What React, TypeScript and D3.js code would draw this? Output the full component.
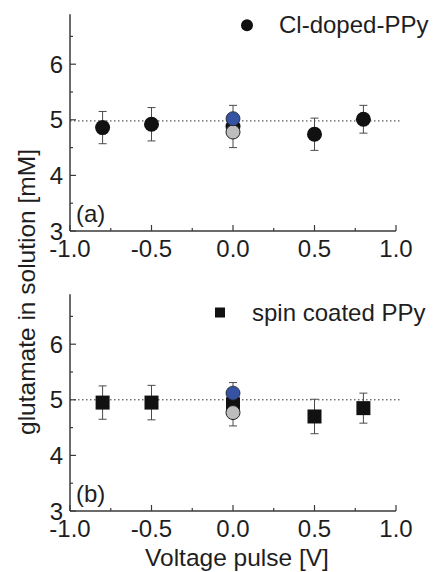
import * as d3 from "d3";

// ── Data ──────────────────────────────────────────────────
const voltages = [-0.8, -0.5, 0, 0.5, 0.8];
const clDopedMean = [4.86, 4.92, 4.88, 4.74, 5.01];
const clDopedErr = [0.29, 0.3, 0.38, 0.29, 0.25];
const spinMean = [4.95, 4.95, 4.92, 4.7, 4.85];
const spinErr = [0.3, 0.31, 0.39, 0.31, 0.27];
// reference points at 0 V (blue / grey circles)
const blueTop = 5.02;
const greyTop = 4.78;
const blueBot = 5.12;
const greyBot = 4.77;
const refLevelTop = 4.98;
const refLevelBot = 5.0;

const xTicks = [-1, -0.5, 0, 0.5, 1];
const xMinor = [-0.75, -0.25, 0.25, 0.75];
const yTicks = [3, 4, 5, 6];
const yMinor = [3.5, 4.5, 5.5, 6.5];

// ── Layout ────────────────────────────────────────────────
const W = 436;
const H = 572;
const FONT = "'Liberation Sans', Arial, Helvetica, sans-serif";
const AXIS = "#3a3a3a";
const TEXT = "#1e1e1e";
const BLUE = "#3552a3";
const GREY = "#bdbdbd";

const x = d3.scaleLinear().domain([-1, 1]).range([70, 396]);

type PanelProps = {
  bottom: number;
  label: string;
  legend: string;
  square: boolean;
  means: number[];
  errs: number[];
  blue: number;
  grey: number;
  level: number;
};

function Panel({ bottom, label, legend, square, means, errs, blue, grey, level }: PanelProps) {
  const y = d3.scaleLinear().domain([3, 7]).range([bottom, bottom - 4 * 55.6]);
  const top = y(6.9);
  const zeroIdx = voltages.indexOf(0);

  const marker = (cx: number, cy: number, s: number, key: string | number) =>
    square ? (
      <rect key={key} x={cx - s} y={cy - s} width={2 * s} height={2 * s} fill="#111" />
    ) : (
      <circle key={key} cx={cx} cy={cy} r={s} fill="#111" />
    );

  return (
    <g>
      {/* dotted reference line */}
      <line x1={x(-1)} x2={x(1.03)} y1={y(level)} y2={y(level)}
        stroke="#333" strokeWidth={1} strokeDasharray="1.5,2.5" />

      {/* axes */}
      <line x1={x(-1)} x2={x(-1)} y1={top} y2={bottom} stroke={AXIS} strokeWidth={1.5} />
      <line x1={x(-1)} x2={x(1)} y1={bottom} y2={bottom} stroke={AXIS} strokeWidth={1.5} />
      {xTicks.map(t => (
        <g key={"x" + t}>
          <line x1={x(t)} x2={x(t)} y1={bottom} y2={bottom - 6} stroke={AXIS} strokeWidth={1.2} />
          <text x={x(t)} y={bottom + 26} textAnchor="middle" fontSize={24}
            fontFamily={FONT} fill={TEXT}>
            {d3.format(".1f")(t).replace("−", "-")}
          </text>
        </g>
      ))}
      {xMinor.map(t => (
        <line key={"xm" + t} x1={x(t)} x2={x(t)} y1={bottom} y2={bottom - 3}
          stroke={AXIS} strokeWidth={1.2} />
      ))}
      {yTicks.map(t => (
        <g key={"y" + t}>
          <line x1={x(-1)} x2={x(-1) + 6} y1={y(t)} y2={y(t)} stroke={AXIS} strokeWidth={1.2} />
          <text x={x(-1) - 7} y={y(t)} dy="0.36em" textAnchor="end" fontSize={24}
            fontFamily={FONT} fill={TEXT}>
            {t}
          </text>
        </g>
      ))}
      {yMinor.map(t => (
        <line key={"ym" + t} x1={x(-1)} x2={x(-1) + 3} y1={y(t)} y2={y(t)}
          stroke={AXIS} strokeWidth={1.2} />
      ))}

      {/* panel label */}
      <text x={76} y={bottom - 9} fontSize={24} fontFamily={FONT} fill={TEXT}>{label}</text>

      {/* legend */}
      {square ? (
        <rect x={215} y={y(6.57) - 5} width={10} height={10} fill="#111" />
      ) : (
        <circle cx={247} cy={y(6.7)} r={6} fill="#111" />
      )}
      <text x={square ? 252 : 279} y={square ? y(6.57) + 8 : y(6.7) + 8}
        fontSize={24} fontFamily={FONT} fill={TEXT}>
        {legend}
      </text>

      {/* error bars */}
      {voltages.map((v, i) => {
        const cx = x(v);
        const y1 = y(means[i] + errs[i]);
        const y2 = y(means[i] - errs[i]);
        return (
          <g key={"e" + i} stroke="#4a4a4a" strokeWidth={1}>
            <line x1={cx} x2={cx} y1={y1} y2={y2} />
            <line x1={cx - 4} x2={cx + 4} y1={y1} y2={y1} />
            <line x1={cx - 4} x2={cx + 4} y1={y2} y2={y2} />
          </g>
        );
      })}

      {/* data markers */}
      {voltages.map((v, i) => marker(x(v), y(means[i]), square ? 7 : 7.5, i))}

      {/* 0 V reference points */}
      <circle cx={x(0)} cy={y(grey)} r={7} fill={GREY} stroke="#222" strokeWidth={1} />
      <circle cx={x(0)} cy={y(blue)} r={7} fill={BLUE} stroke="#222" strokeWidth={0.8} />
      {zeroIdx < 0 ? null : null}
    </g>
  );
}

export default function App() {
  return (
    <svg width={W} height={H} viewBox={`0 0 ${W} ${H}`}
      style={{ position: "absolute", left: 0, top: 0, background: "#fff" }}>
      <rect width={W} height={H} fill="#fff" />
      <Panel bottom={231} label="(a)" legend="Cl-doped-PPy" square={false}
        means={clDopedMean} errs={clDopedErr} blue={blueTop} grey={greyTop} level={refLevelTop} />
      <Panel bottom={511} label="(b)" legend="spin coated PPy" square={true}
        means={spinMean} errs={spinErr} blue={blueBot} grey={greyBot} level={refLevelBot} />

      <text transform="translate(35,292) rotate(-90)" textAnchor="middle"
        fontSize={24.5} fontFamily={FONT} fill={TEXT}>
        glutamate in solution [mM]
      </text>
      <text x={237} y={566} textAnchor="middle" fontSize={24.5} fontFamily={FONT} fill={TEXT}>
        Voltage pulse [V]
      </text>
    </svg>
  );
}
